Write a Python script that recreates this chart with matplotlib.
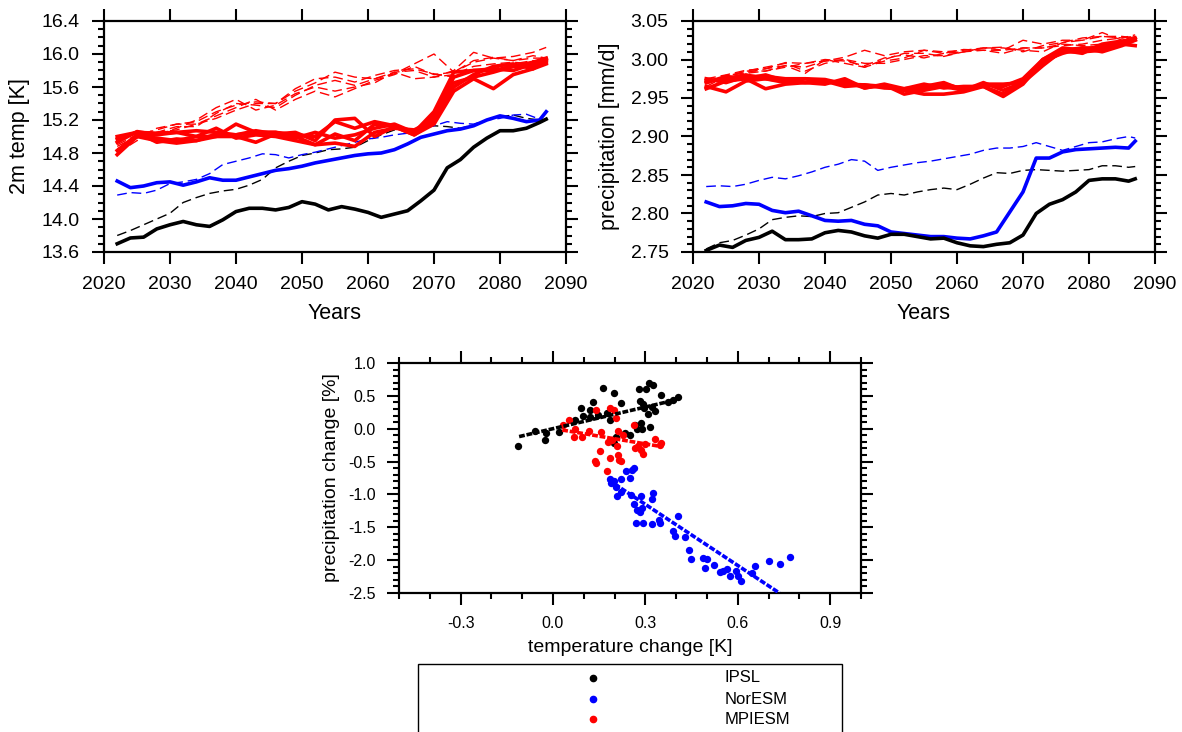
import numpy as np
import matplotlib
matplotlib.use("Agg")
import matplotlib.pyplot as plt
from matplotlib.patches import Rectangle
from matplotlib.ticker import MultipleLocator

plt.rcParams['font.family'] = ['Liberation Sans', 'DejaVu Sans']
plt.rcParams['axes.unicode_minus'] = False

# ---- years ----
yrs2 = [2022, 2024, 2026, 2028, 2030, 2032, 2034, 2036, 2038, 2040, 2042, 2044,
        2046, 2048, 2050, 2052, 2054, 2056, 2058, 2060, 2062, 2064, 2066, 2068,
        2070, 2072, 2074, 2076, 2078, 2080, 2082, 2084, 2086, 2087]
yrs3 = [2022, 2025, 2028, 2031, 2034, 2037, 2040, 2043, 2046, 2049, 2052, 2055,
        2058, 2061, 2064, 2067, 2070, 2073, 2076, 2079, 2082, 2085, 2087]

# ---- 2m temperature [K] ----
temp_ipsl = [13.70, 13.77, 13.78, 13.88, 13.93, 13.97, 13.93, 13.91, 13.99, 14.09, 14.13, 14.13,
             14.11, 14.14, 14.21, 14.18, 14.11, 14.15, 14.12, 14.08, 14.02, 14.06, 14.10, 14.22,
             14.35, 14.62, 14.72, 14.87, 14.98, 15.07, 15.07, 15.10, 15.17, 15.21]
temp_ipsl_ctl = [13.80, 13.86, 13.93, 14.00, 14.07, 14.20, 14.26, 14.31, 14.34, 14.36, 14.41, 14.48,
                 14.62, 14.70, 14.77, 14.80, 14.84, 14.85, 14.87, 14.95, 15.02, 15.08, 15.07, 15.10,
                 15.13, 15.12, 15.10, 15.14, 15.20, 15.24, 15.26, 15.22, 15.20, 15.21]
temp_nor = [14.46, 14.38, 14.40, 14.44, 14.45, 14.41, 14.45, 14.50, 14.47, 14.47, 14.51, 14.55,
            14.59, 14.61, 14.64, 14.68, 14.71, 14.74, 14.77, 14.79, 14.80, 14.84, 14.91, 14.99,
            15.03, 15.07, 15.09, 15.13, 15.20, 15.25, 15.22, 15.18, 15.20, 15.30]
temp_nor_ctl = [14.29, 14.32, 14.31, 14.35, 14.43, 14.45, 14.48, 14.55, 14.66, 14.70, 14.74, 14.79,
                14.78, 14.74, 14.78, 14.81, 14.85, 14.89, 14.93, 14.97, 14.99, 15.02, 15.04, 15.09,
                15.13, 15.18, 15.16, 15.15, 15.20, 15.22, 15.26, 15.27, 15.21, 15.20]
temp_mpi = [
    [14.97, 15.05, 15.04, 15.05, 15.07, 15.05, 15.02, 15.05, 15.05, 15.02, 15.00, 15.18,
     15.10, 15.18, 15.13, 15.05, 15.25, 15.72, 15.80, 15.80, 15.85, 15.90, 15.95],
    [14.78, 15.00, 14.95, 14.92, 14.95, 15.00, 15.00, 14.93, 15.03, 15.05, 14.95, 15.20,
     15.22, 15.00, 15.12, 15.02, 15.15, 15.55, 15.70, 15.58, 15.75, 15.82, 15.88],
    [14.93, 15.06, 15.02, 15.05, 15.00, 15.00, 15.15, 15.05, 15.05, 15.00, 14.90, 14.92,
     14.88, 15.05, 15.10, 15.08, 15.20, 15.60, 15.75, 15.85, 15.88, 15.82, 15.92],
    [15.00, 15.05, 14.93, 14.97, 14.95, 15.03, 15.02, 15.07, 15.03, 14.98, 15.05, 14.98,
     15.02, 15.10, 15.15, 15.05, 15.30, 15.78, 15.80, 15.82, 15.80, 15.88, 15.94],
    [14.83, 15.02, 14.98, 14.95, 15.00, 15.10, 14.98, 15.02, 15.00, 14.95, 14.90, 15.03,
     14.95, 15.15, 15.12, 15.02, 15.18, 15.65, 15.72, 15.78, 15.85, 15.85, 15.90],
]
temp_mpi_ctl = [
    [14.85, 14.98, 15.10, 15.15, 15.18, 15.30, 15.38, 15.42, 15.40, 15.55, 15.65, 15.78,
     15.72, 15.70, 15.78, 15.80, 15.72, 15.80, 16.02, 15.95, 15.97, 16.02, 16.08],
    [14.80, 14.95, 15.05, 15.12, 15.12, 15.28, 15.40, 15.38, 15.35, 15.50, 15.62, 15.68,
     15.62, 15.70, 15.76, 15.88, 16.00, 15.78, 15.90, 15.95, 15.92, 15.95, 15.95],
    [14.88, 15.00, 15.02, 15.10, 15.20, 15.35, 15.45, 15.32, 15.38, 15.52, 15.60, 15.55,
     15.60, 15.65, 15.78, 15.70, 15.72, 15.75, 15.85, 15.88, 15.90, 15.88, 15.90],
    [14.90, 15.02, 15.08, 15.15, 15.15, 15.25, 15.35, 15.45, 15.32, 15.45, 15.55, 15.48,
     15.58, 15.68, 15.75, 15.85, 15.75, 15.78, 15.92, 15.96, 15.92, 15.98, 15.95],
    [14.82, 15.00, 15.05, 15.08, 15.15, 15.22, 15.32, 15.40, 15.40, 15.58, 15.70, 15.72,
     15.66, 15.74, 15.80, 15.82, 15.76, 15.72, 15.80, 15.82, 15.88, 15.92, 15.88],
]

# ---- precipitation [mm/d] ----
pr_ipsl = [2.752, 2.759, 2.756, 2.765, 2.769, 2.777, 2.766, 2.766, 2.767, 2.775, 2.778, 2.776,
           2.771, 2.768, 2.773, 2.773, 2.770, 2.767, 2.768, 2.762, 2.758, 2.757, 2.760, 2.762,
           2.772, 2.800, 2.812, 2.818, 2.828, 2.843, 2.845, 2.845, 2.842, 2.845]
pr_ipsl_ctl = [2.754, 2.762, 2.765, 2.772, 2.780, 2.792, 2.795, 2.797, 2.796, 2.800, 2.801, 2.808,
               2.815, 2.824, 2.826, 2.824, 2.828, 2.831, 2.833, 2.831, 2.838, 2.846, 2.853, 2.852,
               2.856, 2.857, 2.856, 2.855, 2.856, 2.857, 2.862, 2.862, 2.860, 2.861]
pr_nor = [2.815, 2.809, 2.810, 2.813, 2.812, 2.804, 2.801, 2.803, 2.797, 2.791, 2.790, 2.791,
          2.786, 2.784, 2.776, 2.774, 2.772, 2.770, 2.770, 2.768, 2.767, 2.771, 2.776, 2.802,
          2.828, 2.872, 2.872, 2.880, 2.883, 2.884, 2.885, 2.886, 2.885, 2.894]
pr_nor_ctl = [2.835, 2.836, 2.835, 2.838, 2.843, 2.847, 2.845, 2.849, 2.854, 2.860, 2.864, 2.870,
              2.868, 2.856, 2.860, 2.863, 2.866, 2.868, 2.871, 2.874, 2.877, 2.882, 2.885, 2.885,
              2.887, 2.892, 2.887, 2.882, 2.887, 2.892, 2.893, 2.897, 2.900, 2.898]
pr_mpi = [
    [2.972, 2.975, 2.980, 2.975, 2.972, 2.970, 2.972, 2.970, 2.965, 2.965, 2.960, 2.962,
     2.968, 2.962, 2.967, 2.965, 2.975, 3.000, 3.012, 3.015, 3.015, 3.020, 3.028],
    [2.962, 2.972, 2.975, 2.962, 2.968, 2.970, 2.972, 2.965, 2.967, 2.965, 2.960, 2.955,
     2.955, 2.958, 2.965, 2.955, 2.972, 2.995, 3.010, 3.010, 3.012, 3.022, 3.026],
    [2.970, 2.978, 2.975, 2.980, 2.972, 2.970, 2.968, 2.975, 2.963, 2.968, 2.962, 2.965,
     2.970, 2.960, 2.968, 2.968, 2.970, 3.000, 3.015, 3.012, 3.018, 3.020, 3.018],
    [2.975, 2.970, 2.978, 2.978, 2.975, 2.975, 2.974, 2.968, 2.967, 2.963, 2.962, 2.968,
     2.963, 2.965, 2.965, 2.952, 2.968, 2.998, 3.008, 3.015, 3.010, 3.018, 3.025],
    [2.965, 2.958, 2.972, 2.975, 2.970, 2.975, 2.970, 2.972, 2.963, 2.967, 2.955, 2.960,
     2.965, 2.960, 2.970, 2.960, 2.970, 2.992, 3.012, 3.008, 3.020, 3.024, 3.026],
]
pr_mpi_ctl = [
    [2.965, 2.978, 2.985, 2.985, 2.990, 2.995, 2.998, 3.003, 3.012, 3.005, 3.010, 3.012,
     3.010, 3.012, 3.015, 3.012, 3.025, 3.020, 3.025, 3.025, 3.030, 3.028, 3.032],
    [2.970, 2.975, 2.982, 2.985, 2.992, 2.982, 3.000, 2.995, 2.990, 3.000, 3.008, 3.008,
     3.004, 3.010, 3.015, 3.015, 3.012, 3.010, 3.022, 3.025, 3.035, 3.025, 3.030],
    [2.968, 2.978, 2.983, 2.988, 2.992, 2.990, 2.998, 3.000, 2.990, 2.998, 3.002, 3.012,
     3.008, 3.013, 3.012, 3.008, 3.015, 3.015, 3.020, 3.018, 3.020, 3.022, 3.025],
    [2.972, 2.977, 2.985, 2.990, 2.995, 2.985, 2.995, 3.000, 2.995, 2.995, 3.000, 3.005,
     3.005, 3.010, 3.012, 3.012, 3.015, 3.015, 3.018, 3.020, 3.025, 3.028, 3.030],
    [2.975, 2.980, 2.986, 2.988, 2.996, 2.995, 3.000, 2.998, 2.992, 3.002, 3.006, 3.002,
     3.008, 3.010, 3.015, 3.016, 3.010, 3.018, 3.022, 3.028, 3.030, 3.030, 3.028],
]

# ---- scatter: temperature change [K] vs precipitation change [%] ----
ipsl_dt = [-0.114, -0.06, -0.026, -0.023, 0.02, 0.072, 0.09, 0.099, 0.119, 0.119, 0.131, 0.145,
           0.163, 0.174, 0.198, 0.221, 0.203, 0.198, 0.233, 0.25, 0.273, 0.279, 0.281, 0.285,
           0.293, 0.302, 0.312, 0.326, 0.297, 0.308, 0.316, 0.331, 0.351, 0.372, 0.39, 0.405,
           0.267, 0.32, 0.29, 0.186]
ipsl_dp = [-0.27, -0.03, -0.17, -0.06, -0.05, 0.14, 0.31, 0.19, 0.29, 0.18, 0.40, 0.21,
           0.62, 0.24, 0.55, 0.39, -0.13, -0.21, -0.07, -0.10, 0.00, 0.60, 0.42, 0.08,
           0.38, 0.60, 0.69, 0.66, 0.31, 0.23, 0.02, 0.27, 0.51, 0.41, 0.43, 0.49,
           0.05, 0.33, 0.00, 0.13]
nor_dt = [0.184, 0.188, 0.198, 0.203, 0.209, 0.221, 0.238, 0.25, 0.256, 0.262, 0.253, 0.262,
          0.27, 0.285, 0.281, 0.288, 0.291, 0.32, 0.326, 0.32, 0.343, 0.349, 0.39, 0.395,
          0.405, 0.428, 0.442, 0.448, 0.488, 0.494, 0.5, 0.523, 0.541, 0.552, 0.564, 0.576,
          0.593, 0.602, 0.61, 0.645, 0.657, 0.7, 0.738, 0.77, 0.273, 0.221]
nor_dp = [-0.76, -0.82, -0.79, -0.88, -1.03, -0.77, -0.65, -0.75, -0.63, -0.60, -1.01, -1.15,
          -1.44, -1.03, -1.26, -1.21, -1.43, -1.07, -0.98, -1.45, -1.39, -1.44, -1.55, -1.63,
          -1.33, -1.65, -1.84, -1.98, -1.97, -2.12, -1.99, -2.08, -2.18, -2.17, -2.14, -2.24,
          -2.17, -2.24, -2.31, -2.20, -2.09, -2.02, -2.06, -1.95, -1.24, -0.96]
mpi_dt = [0.033, 0.052, 0.07, 0.067, 0.093, 0.116, 0.14, 0.137, 0.14, 0.151, 0.157, 0.174,
          0.184, 0.186, 0.177, 0.192, 0.203, 0.209, 0.212, 0.215, 0.221, 0.21, 0.262, 0.267,
          0.277, 0.285, 0.291, 0.3, 0.331, 0.347, 0.35, 0.227, 0.198]
mpi_dp = [0.05, 0.13, -0.01, -0.13, -0.12, -0.03, 0.29, -0.49, -0.52, -0.34, -0.05, -0.65,
          -0.44, 0.31, -0.20, -0.17, 0.17, -0.27, -0.40, -0.48, -0.49, -0.03, 0.05, -0.30,
          -0.27, -0.33, -0.39, -0.23, -0.16, -0.25, -0.21, -0.10, 0.28]

# regression lines (end points)
ipsl_fit_x = [-0.11, 0.40]
ipsl_fit_y = [-0.12, 0.44]
mpi_fit_x = [0.03, 0.35]
mpi_fit_y = [-0.02, -0.27]
nor_fit_x = [0.18, 0.735]
nor_fit_y = [-0.78, -2.50]

models = ['IPSL', 'NorESM', 'MPIESM']
colors = ['black', 'blue', 'red']

W, H = 1182, 732
fig = plt.figure(figsize=(W / 100, H / 100), dpi=100)


def px_axes(l, t, r, b):
    return fig.add_axes([l / W, 1 - b / H, (r - l) / W, (b - t) / H])


def style(ax, tick_fs, minor_x, pad):
    for s in ax.spines.values():
        s.set_linewidth(1.6)
    ax.tick_params(which='both', direction='out', top=True, right=True,
                   width=1.5, labelsize=tick_fs, pad=pad)
    ax.tick_params(which='major', length=8.5)
    ax.tick_params(which='minor', length=4.5)
    if not minor_x:
        ax.tick_params(axis='x', which='minor', bottom=False, top=False)


thick = 2.6
thin = 1.0
dash = (0, (7, 3.5))
fitls = (0, (1.6, 0.5))

# top-left: temperature
ax1 = px_axes(104, 21, 566, 252)
for s in temp_mpi_ctl:
    ax1.plot(yrs3, s, color='red', lw=thin, ls=dash)
ax1.plot(yrs2, temp_ipsl_ctl, color='black', lw=thin, ls=dash)
ax1.plot(yrs2, temp_nor_ctl, color='blue', lw=thin, ls=dash)
for s in temp_mpi:
    ax1.plot(yrs3, s, color='red', lw=thick)
ax1.plot(yrs2, temp_nor, color='blue', lw=thick)
ax1.plot(yrs2, temp_ipsl, color='black', lw=thick)
ax1.set_xlim(2020, 2090)
ax1.set_ylim(13.6, 16.4)
ax1.xaxis.set_major_locator(MultipleLocator(10))
ax1.yaxis.set_major_locator(MultipleLocator(0.4))
ax1.yaxis.set_minor_locator(MultipleLocator(0.1))
ax1.yaxis.set_major_formatter(matplotlib.ticker.FormatStrFormatter('%.1f'))
style(ax1, 14, False, 9)
ax1.set_xlabel('Years', fontsize=15.5, labelpad=7)
ax1.set_ylabel('2m temp [K]', fontsize=15.5, labelpad=8)

# top-right: precipitation
ax2 = px_axes(693, 21, 1155, 252)
for s in pr_mpi_ctl:
    ax2.plot(yrs3, s, color='red', lw=thin, ls=dash)
ax2.plot(yrs2, pr_ipsl_ctl, color='black', lw=thin, ls=dash)
ax2.plot(yrs2, pr_nor_ctl, color='blue', lw=thin, ls=dash)
for s in pr_mpi:
    ax2.plot(yrs3, s, color='red', lw=thick)
ax2.plot(yrs2, pr_nor, color='blue', lw=thick)
ax2.plot(yrs2, pr_ipsl, color='black', lw=thick)
ax2.set_xlim(2020, 2090)
ax2.set_ylim(2.75, 3.05)
ax2.xaxis.set_major_locator(MultipleLocator(10))
ax2.yaxis.set_major_locator(MultipleLocator(0.05))
ax2.yaxis.set_minor_locator(MultipleLocator(0.01))
ax2.yaxis.set_major_formatter(matplotlib.ticker.FormatStrFormatter('%.2f'))
style(ax2, 14, False, 9)
ax2.set_xlabel('Years', fontsize=15.5, labelpad=7)
ax2.set_ylabel('precipitation [mm/d]', fontsize=15.5, labelpad=8)

# bottom: scatter
ax3 = px_axes(399, 363, 861, 593)
ax3.scatter(ipsl_dt, ipsl_dp, s=28, color='black', lw=0, zorder=3)
ax3.scatter(mpi_dt, mpi_dp, s=28, color='red', lw=0, zorder=3)
ax3.scatter(nor_dt, nor_dp, s=28, color='blue', lw=0, zorder=3)
ax3.plot(ipsl_fit_x, ipsl_fit_y, color='black', lw=2.6, ls=fitls, zorder=4)
ax3.plot(mpi_fit_x, mpi_fit_y, color='red', lw=2.6, ls=fitls, zorder=4)
ax3.plot(nor_fit_x, nor_fit_y, color='blue', lw=2.6, ls=fitls, zorder=4)
ax3.set_xlim(-0.5, 1.0)
ax3.set_ylim(-2.5, 1.0)
ax3.set_xticks([-0.3, 0.0, 0.3, 0.6, 0.9])
ax3.xaxis.set_minor_locator(MultipleLocator(0.1))
ax3.yaxis.set_major_locator(MultipleLocator(0.5))
ax3.yaxis.set_minor_locator(MultipleLocator(0.1))
ax3.xaxis.set_major_formatter(matplotlib.ticker.FormatStrFormatter('%.1f'))
ax3.yaxis.set_major_formatter(matplotlib.ticker.FormatStrFormatter('%.1f'))
style(ax3, 11.5, True, 8)
ax3.set_xlabel('temperature change [K]', fontsize=14, labelpad=6)
ax3.set_ylabel('precipitation change [%]', fontsize=14, labelpad=6)

# legend box (runs off the bottom of the figure)
fig.patches.append(Rectangle((418 / W, -0.05), 424 / W, 0.05 + (1 - 664 / H),
                             transform=fig.transFigure, fill=False,
                             edgecolor='black', lw=1.0))
rows_y = [678, 699, 719]
for name, c, yy in zip(models, colors, rows_y):
    fig.lines.append(matplotlib.lines.Line2D([593 / W], [1 - yy / H], marker='o', ms=4.5,
                                             color=c, ls='none', transform=fig.transFigure))
    fig.text(725 / W, 1 - yy / H, name, fontsize=12, va='center', ha='left')

fig.savefig('out.png', dpi=100)
